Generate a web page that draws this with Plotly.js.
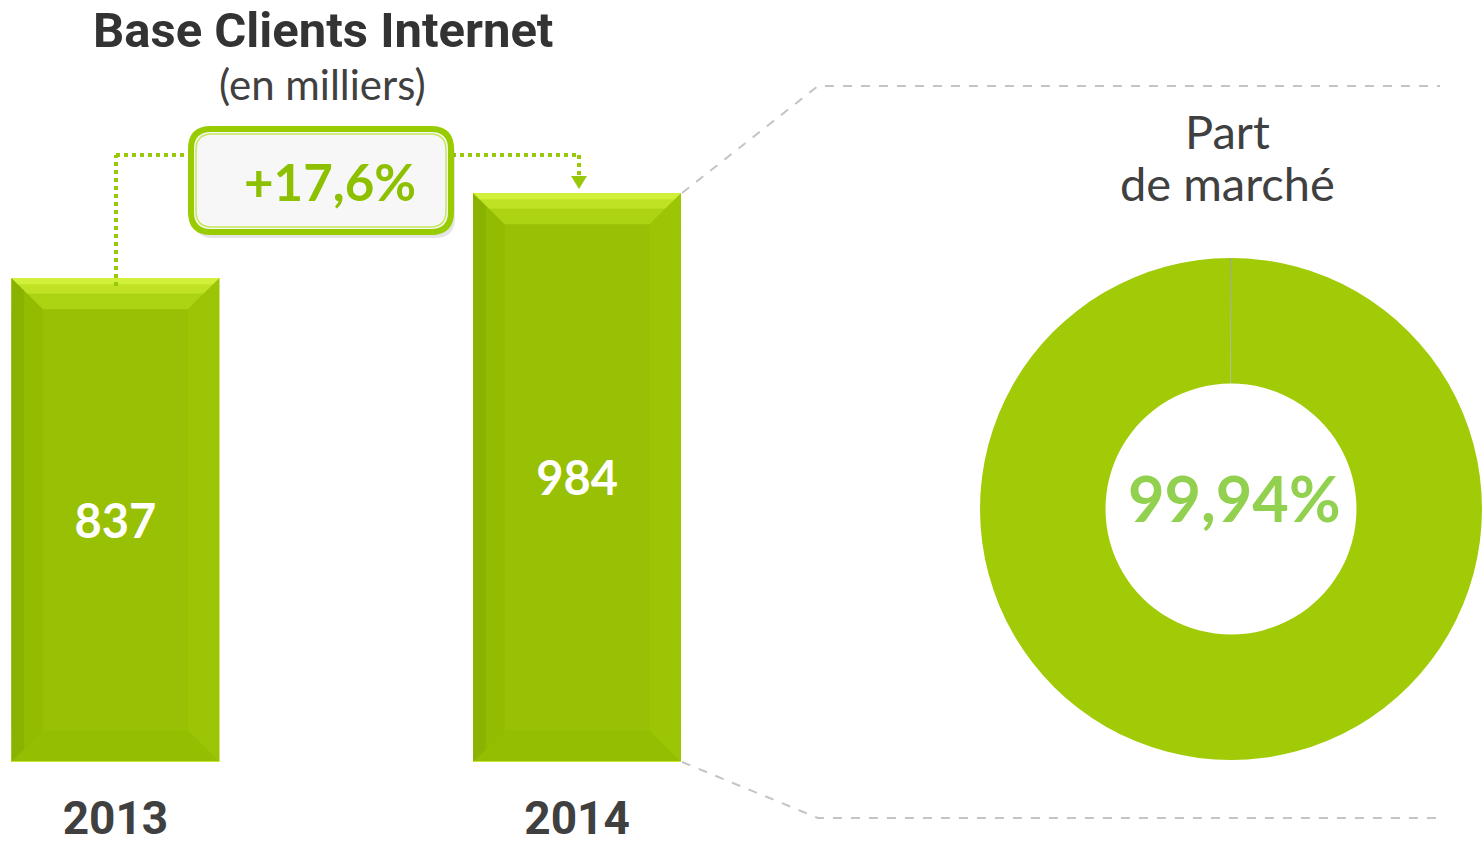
<!DOCTYPE html>
<html><head><meta charset="utf-8">
<script src="https://cdn.plot.ly/plotly-3.0.1.min.js"></script>
<style>html,body{margin:0;padding:0;background:#fff}#chart{width:1483px;height:846px}</style>
</head><body><div id="chart"></div>
<script>
// ---- data ----
const years = ['2013', '2014'];
const clients = [837, 984];
const growthLabel = '+17,6%';
const shareLabels = ['Part de marché', 'Autres'];
const shareValues = [99.94, 0.06];
const shareText = '99,94%';
const titleMain = 'Base Clients Internet';
const titleSub = '(en milliers)';
const shareTitleLines = ['Part', 'de marché'];

// ---- geometry helpers (page pixels -> paper) ----
const W = 1483, H = 846;
const px = v => v / W;
const py = v => 1 - v / H;

const xIdx = years.map((_, i) => i);
const barW = 0.45;
const bdx = 0.068, bdy = 54;

const shapes = [];
// bevels on bars
xIdx.forEach((i) => {
  const v = clients[i], x0 = i - barW / 2, x1 = i + barW / 2;
  const P = pts => 'M' + pts.map(p => p[0] + ',' + p[1]).join(' L') + ' Z';
  const sh = (fill, pts) => shapes.push({type: 'path', xref: 'x', yref: 'y', layer: 'above', line: {width: 0}, fillcolor: fill, path: P(pts)});
  sh('#92bb02', [[x0, 0], [x0, v], [x0 + bdx, v - bdy], [x0 + bdx, bdy]]);
  sh('#8ab200', [[x0, 0], [x0, v], [x0 + bdx * 0.4, v - bdy * 0.4], [x0 + bdx * 0.4, bdy * 0.4]]);
  sh('#9cc506', [[x1, 0], [x1, v], [x1 - bdx, v - bdy], [x1 - bdx, bdy]]);
  sh('#acd412', [[x0, v], [x1, v], [x1 - bdx, v - bdy], [x0 + bdx, v - bdy]]);
  sh('#bfe324', [[x0, v], [x1, v], [x1 - bdx * 0.5, v - bdy * 0.5], [x0 + bdx * 0.5, v - bdy * 0.5]]);
  sh('#d0f03a', [[x0, v], [x1, v], [x1 - bdx * 0.2, v - bdy * 0.2], [x0 + bdx * 0.2, v - bdy * 0.2]]);
  sh('#94be02', [[x0, 0], [x1, 0], [x1 - bdx, bdy], [x0 + bdx, bdy]]);
  shapes.push({type: 'line', xref: 'x', yref: 'y', layer: 'above', x0: x0, x1: x1, y0: 0, y1: 0,
    line: {color: '#c4e62a', width: 2}});
});

// connectors (dotted green)
const dotG = {color: '#99c80a', width: 4, dash: 'dot'};
shapes.push({type: 'line', xref: 'paper', yref: 'paper', x0: px(116), x1: px(116), y0: py(286), y1: py(155), line: dotG});
shapes.push({type: 'line', xref: 'paper', yref: 'paper', x0: px(116), x1: px(190), y0: py(155), y1: py(155), line: dotG});
shapes.push({type: 'line', xref: 'paper', yref: 'paper', x0: px(452), x1: px(579), y0: py(155), y1: py(155), line: dotG});
shapes.push({type: 'line', xref: 'paper', yref: 'paper', x0: px(579), x1: px(579), y0: py(155), y1: py(176), line: dotG});
shapes.push({type: 'path', xref: 'paper', yref: 'paper', fillcolor: '#99c80a', line: {width: 0},
  path: `M${px(571)},${py(176)} L${px(587)},${py(176)} L${px(579)},${py(189)} Z`});

// growth box (rounded rect)
function rrect(x0, y0, x1, y1, r) {
  return `M${px(x0 + r)},${py(y0)} L${px(x1 - r)},${py(y0)} Q${px(x1)},${py(y0)} ${px(x1)},${py(y0 + r)} ` +
    `L${px(x1)},${py(y1 - r)} Q${px(x1)},${py(y1)} ${px(x1 - r)},${py(y1)} L${px(x0 + r)},${py(y1)} ` +
    `Q${px(x0)},${py(y1)} ${px(x0)},${py(y1 - r)} L${px(x0)},${py(y0 + r)} Q${px(x0)},${py(y0)} ${px(x0 + r)},${py(y0)} Z`;
}
shapes.push({type: 'path', xref: 'paper', yref: 'paper', fillcolor: 'rgba(0,0,0,0.10)', line: {width: 0},
  path: rrect(193, 133, 455, 238, 20)});
shapes.push({type: 'path', xref: 'paper', yref: 'paper', fillcolor: '#f7f7f7', line: {color: '#98cb00', width: 6},
  path: rrect(191, 129, 451, 232, 20)});
shapes.push({type: 'path', xref: 'paper', yref: 'paper', fillcolor: 'rgba(0,0,0,0)', line: {color: '#c6e85a', width: 1.5},
  path: rrect(196, 134, 446, 227, 16)});

// dashed grey guides
const dashG = {color: '#c4c4c4', width: 2, dash: 'dash'};
shapes.push({type: 'path', xref: 'paper', yref: 'paper', line: dashG,
  path: `M${px(682)},${py(193)} L${px(818)},${py(86)} L${px(1440)},${py(86)}`});
shapes.push({type: 'path', xref: 'paper', yref: 'paper', line: dashG,
  path: `M${px(682)},${py(762)} L${px(818)},${py(818)} L${px(1440)},${py(818)}`});

const bars = {
  type: 'bar', x: xIdx, y: clients, width: barW,
  marker: {color: '#98c004', line: {width: 0}},
  text: clients.map(String), textposition: 'inside', insidetextanchor: 'middle',
  textangle: 0,
  textfont: {family: 'Lato, sans-serif', size: 47, color: '#ffffff', weight: 'bold'},
  hoverinfo: 'skip', cliponaxis: false
};

const donut = {
  type: 'pie', labels: shareLabels, values: shareValues, hole: 0.5, sort: false,
  direction: 'counterclockwise', rotation: 0,
  domain: {x: [px(980), px(1482)], y: [py(760), py(258)]},
  marker: {colors: ['#a1cb06', '#9a9a9a'], line: {width: 0}},
  textinfo: 'none', hoverinfo: 'skip', showlegend: false
};

const ann = (text, x, y, font) => ({text, xref: 'paper', yref: 'paper', x: px(x), y: py(y),
  xanchor: 'center', yanchor: 'middle', showarrow: false, font});
const shareFont = {family: 'Lato, sans-serif', size: 47, color: '#404040'};
const annotations = [
  ann('<b>' + titleMain + '</b>', 323, 30, {family: 'Roboto, sans-serif', size: 49, color: '#333333'}),
  ann(titleSub, 322, 84, {family: 'Lato, sans-serif', size: 42, color: '#404040'}),
  ann('<b>' + growthLabel + '</b>', 330, 182, {family: 'Lato, sans-serif', size: 51, color: '#8cc000'}),
  ann(shareTitleLines[0], 1227, 131, shareFont),
  ann(shareTitleLines[1], 1227, 183, shareFont),
  ann('<b>' + shareText + '</b>', 1234, 498, {family: 'Lato, sans-serif', size: 63, color: '#92d050'})
];

const layout = {
  width: W, height: H, margin: {l: 0, r: 0, t: 0, b: 0},
  paper_bgcolor: '#ffffff', plot_bgcolor: 'rgba(0,0,0,0)', showlegend: false,
  xaxis: {domain: [0, px(692.5)], range: [-0.25, 1.25], tickmode: 'array', tickvals: xIdx, ticktext: years,
    showgrid: false, zeroline: false, showline: false, ticks: '', ticklabelstandoff: 25,
    tickfont: {family: 'Roboto, sans-serif', size: 46, color: '#404040', weight: 'bold'}, fixedrange: true},
  yaxis: {domain: [py(762), py(97)], range: [0, 1150], visible: false, fixedrange: true},
  shapes: shapes, annotations: annotations
};

Plotly.newPlot('chart', [bars, donut], layout, {displayModeBar: false, staticPlot: true});
</script></body></html>
